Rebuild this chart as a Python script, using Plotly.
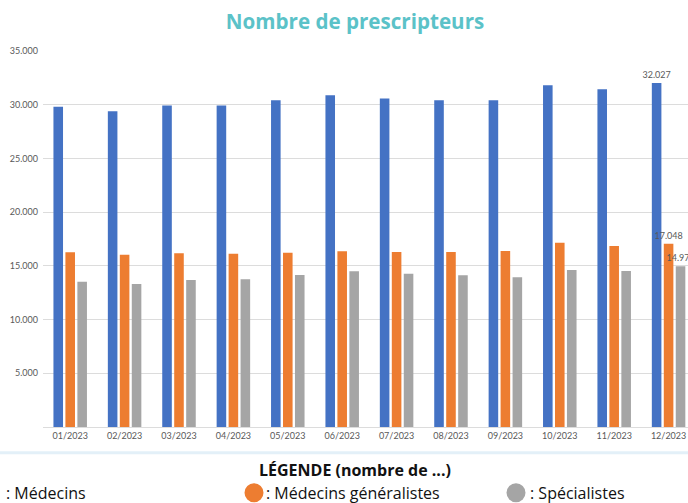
import plotly.graph_objects as go

months = ["01/2023", "02/2023", "03/2023", "04/2023", "05/2023", "06/2023",
          "07/2023", "08/2023", "09/2023", "10/2023", "11/2023", "12/2023"]
medecins = [29800, 29385, 29916, 29916, 30410, 30875, 30568, 30410, 30410, 31806, 31434, 32027]
generalistes = [16257, 16043, 16164, 16136, 16229, 16350, 16294, 16294, 16387, 17160, 16853, 17048]
specialistes = [13529, 13315, 13687, 13743, 14153, 14488, 14274, 14116, 13930, 14618, 14525, 14975]

series_names = ["Médecins", "Médecins généralistes", "Spécialistes"]
colors = ["#4472C4", "#ED7D31", "#A5A5A5"]

W, H = 688, 503
L, R, T, B = 43, 0, 51.4, 75.7
PW, PH = W - L - R, H - T - B


def px(xp):
    return (xp - L) / PW


def py(yp):
    return (H - B - yp) / PH


def fmt(v):
    return f"{v:,}".replace(",", ".")


fig = go.Figure()
for name, vals, col in zip(series_names, [medecins, generalistes, specialistes], colors):
    txt = [""] * (len(vals) - 1) + [fmt(vals[-1])]
    fig.add_trace(go.Bar(
        x=months, y=vals, name=name, marker_color=col, marker_line_width=0,
        text=txt, textposition="outside", cliponaxis=False, constraintext="none",
        textfont=dict(family="Lato", size=9, color="#595959"),
        hoverinfo="skip",
    ))

fig.update_layout(
    width=W, height=H,
    margin=dict(l=L, r=R, t=T, b=B),
    paper_bgcolor="white", plot_bgcolor="white",
    barmode="group", bargap=0.34, bargroupgap=0.2,
    separators=",.",
    showlegend=False,
    title=dict(text="<b>Nombre de prescripteurs</b>", x=355 / W, xref="container",
               xanchor="center", y=1 - 22 / H, yref="container", yanchor="middle",
               font=dict(family="Open Sans", size=20.6, color="#5BC2C8")),
    xaxis=dict(range=[-0.5, 11.357], showgrid=False, showline=True,
               linecolor="#DCDCDC", linewidth=1, ticks="",
               tickfont=dict(family="Lato", size=9, color="#595959")),
    yaxis=dict(range=[0, 35000], tickformat=",d", showgrid=True,
               gridcolor="#DCDCDC", gridwidth=1, zeroline=False, showline=False,
               ticks="", ticklabelstandoff=4,
               tickvals=[5000, 10000, 15000, 20000, 25000, 30000, 35000],
               tickfont=dict(family="Lato", size=9, color="#595959")),
)

# light separator band
fig.add_shape(type="line", xref="paper", yref="paper", x0=px(0), x1=px(W),
              y0=py(453), y1=py(453), line=dict(color="#E3F0F8", width=3))

fig.add_annotation(text="<b>LÉGENDE (nombre de ...)</b>", xref="paper", yref="paper",
                   x=px(355), y=py(470), xanchor="center", yanchor="middle",
                   showarrow=False, font=dict(family="Open Sans", size=16, color="#111111"))

legend_items = [(": Médecins", -14, 4, colors[0]),
                (": Médecins généralistes", 254, 264, colors[1]),
                (": Spécialistes", 516, 528, colors[2])]
for label, cx, tx, col in legend_items:
    r = 9.5
    fig.add_shape(type="circle", xref="paper", yref="paper",
                  x0=px(cx - r), x1=px(cx + r), y0=py(493 + r), y1=py(493 - r),
                  fillcolor=col, line=dict(width=0))
    fig.add_annotation(text=label, xref="paper", yref="paper", x=px(tx), y=py(493),
                       xanchor="left", yanchor="middle", showarrow=False,
                       font=dict(family="Open Sans", size=16, color="#111111"))

fig.write_html("out.html", config={"displayModeBar": False},
               post_script="document.body.style.margin='0';document.body.style.overflow='hidden';")
